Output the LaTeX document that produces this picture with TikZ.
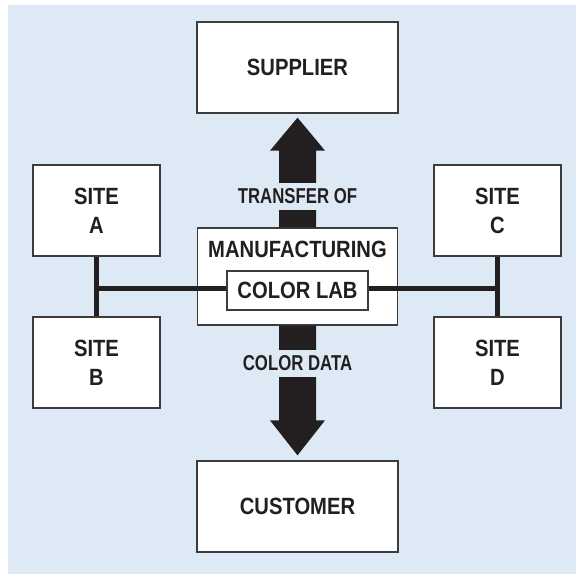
\documentclass[tikz,border=0pt]{standalone}
\usepackage{fontspec}
\setmainfont{Liberation Sans}[FakeStretch=0.86]
\newfontfamily\labelfont{Liberation Sans}[FakeStretch=0.78]
\usepackage{tikz}
\usetikzlibrary{calc}

\definecolor{bgblue}{RGB}{221,233,245}
\definecolor{inkblack}{RGB}{35,31,32}
\definecolor{boxgray}{RGB}{60,60,60}

\begin{document}
\begin{tikzpicture}[x=1pt, y=-1pt,
        box/.style={draw=boxgray, fill=white, line width=1.3pt, minimum width=201pt,
            minimum height=91pt, align=center, inner sep=0pt, text=inkblack,
            font=\fontsize{23.5}{29}\selectfont\bfseries},
        sitebox/.style={box, minimum width=127pt},
        bus/.style={draw=inkblack, line width=5pt},
        fatarrow/.style={fill=inkblack},
        flowlabel/.style={fill=bgblue, text=inkblack, inner xsep=1pt, inner ysep=6pt,
            font=\labelfont\fontsize{21.5}{25}\selectfont\bfseries}]
        % Background panel
        \useasboundingbox (0,0) rectangle (576,575);
        \fill[bgblue] (8,5) rectangle (576,574);

        % Supplier and customer
        \node[box] (supplier) at (297.5,67.5) {SUPPLIER};
        \node[box] (customer) at (297.5,506.5) {CUSTOMER};

        % The four sites
        \node[sitebox] (siteA) at (96.5,210.5) {SITE\\A};
        \node[sitebox] (siteB) at (96.5,362.5) {SITE\\B};
        \node[sitebox] (siteC) at (497.5,210.5) {SITE\\C};
        \node[sitebox] (siteD) at (497.5,362.5) {SITE\\D};

        % Manufacturing box
        \node[box, minimum width=200pt, minimum height=97pt] (mfg) at (297.5,276.5) {};
        \node[anchor=base, text=inkblack, inner sep=0pt,
            font=\fontsize{23.5}{29}\selectfont\bfseries] (mfgtxt) at (297.5,257.5) {MANUFACTURING};

        % Tips of the two big arrows
        \coordinate (uptip) at ([yshift=-4pt]supplier.south);
        \coordinate (downtip) at ([yshift=5pt]customer.north);

        % Big arrow up to the supplier
        \fill[fatarrow] (uptip) -- ++(27.5,33) -- ++(-9,0) -- ([xshift=18.5pt]mfg.north)
            -- ([xshift=-18.5pt]mfg.north) -- ($(uptip)+(-18.5,33)$) -- ++(-9,0) -- cycle;

        % Big arrow down to the customer
        \fill[fatarrow] (downtip) -- ++(27.5,-35) -- ++(-9,0) -- ([xshift=18.5pt]mfg.south)
            -- ([xshift=-18.5pt]mfg.south) -- ($(downtip)+(-18.5,-35)$) -- ++(-9,0) -- cycle;

        % Lines joining the sites to the lab
        \draw[bus] (siteA.south) -- (siteB.north);
        \draw[bus] (siteC.south) -- (siteD.north);
        \coordinate (labline) at (297.5,288);
        \draw[bus] (siteA.south |- labline) -- (labline);
        \draw[bus] (siteC.south |- labline) -- (labline);

        % Color lab inside
        \node[box, minimum width=141pt, minimum height=39pt] (lab) at (297.5,290.5) {COLOR LAB};

        % Labels on the arrows
        \node[flowlabel] (xferlbl) at (297.5,196.5) {TRANSFER OF};
        \node[flowlabel] (datalbl) at (297.5,363.5) {COLOR DATA};
    \end{tikzpicture}
\end{document}
